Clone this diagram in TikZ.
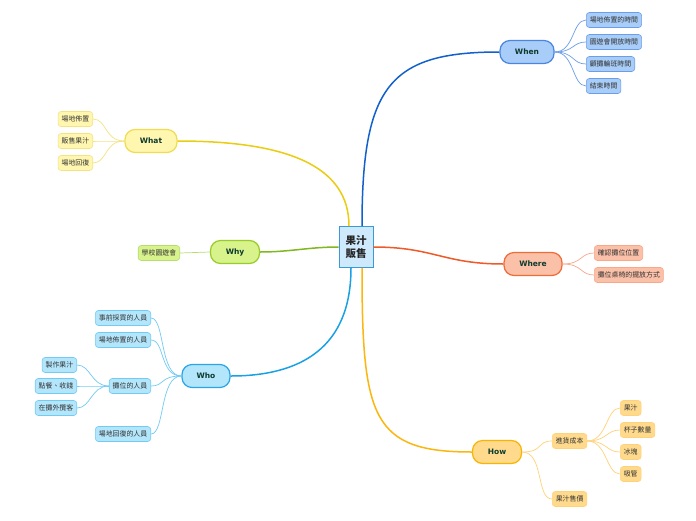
\documentclass[tikz,border=0pt]{standalone}
\usepackage{fontspec}
\setmainfont{Noto Sans CJK TC}
\newfontfamily\latinbold{DejaVu Sans}[BoldFont={DejaVu Sans Bold}]
\begin{document}
\begin{tikzpicture}[x=1pt,y=-1pt,
  every node/.style={inner sep=0pt},
  main/.style={draw, line width=1.2pt, rounded corners=10pt, minimum height=23pt, font=\latinbold\bfseries\fontsize{7.5}{8}\selectfont, text=textdark},
  leaf/.style={draw, line width=0.6pt, rounded corners=3pt, minimum height=15pt, inner xsep=3.5pt, font=\fontsize{6.9}{7.5}\selectfont, text=leaftext},
  branch/.style={line width=1.5pt},
  twig/.style={line width=0.7pt}]
\definecolor{textdark}{HTML}{0D3B2E}
\definecolor{leaftext}{HTML}{333333}
\definecolor{whenF}{HTML}{A8CDF8}\definecolor{whenB}{HTML}{4A86E0}\definecolor{whenL}{HTML}{1260CC}\definecolor{whenT}{HTML}{6C9EE8}
\definecolor{whatF}{HTML}{FFF6B0}\definecolor{whatB}{HTML}{F0DC50}\definecolor{whatL}{HTML}{EACD10}\definecolor{whatT}{HTML}{F3E383}
\definecolor{whyF}{HTML}{D8F28C}\definecolor{whyB}{HTML}{98CC28}\definecolor{whyL}{HTML}{80B820}\definecolor{whyT}{HTML}{B5DD70}
\definecolor{whereF}{HTML}{FBC0A8}\definecolor{whereB}{HTML}{EF6B3A}\definecolor{whereL}{HTML}{EF5A28}\definecolor{whereT}{HTML}{F8A88A}
\definecolor{whoF}{HTML}{B3E5FB}\definecolor{whoB}{HTML}{29A6E6}\definecolor{whoL}{HTML}{1AA0E6}\definecolor{whoT}{HTML}{72CBF2}
\definecolor{howF}{HTML}{FFDA8C}\definecolor{howB}{HTML}{F7B500}\definecolor{howL}{HTML}{FCB610}\definecolor{howT}{HTML}{FFD27A}
\definecolor{centerF}{HTML}{CDE9FB}\definecolor{centerB}{HTML}{3A9AD8}

\useasboundingbox[fill=white] (0,0) rectangle (696,520);

% center
\node[draw=centerB, fill=centerF, line width=0.8pt, minimum width=34pt, minimum height=41pt, align=center, font=\fontsize{10.5}{13}\selectfont\bfseries, text=black!85] (c) at (356,247) {果汁\\販售};

% main nodes
\node[main, draw=whenB, fill=whenF, minimum width=54pt] (when) at (527,52) {When};
\node[main, draw=whatB, fill=whatF, minimum width=52pt] (what) at (151,141) {What};
\node[main, draw=whyB, fill=whyF, minimum width=49pt] (why) at (235,252) {Why};
\node[main, draw=whereB, fill=whereF, minimum width=58pt] (where) at (533,264) {Where};
\node[main, draw=whoB, fill=whoF, minimum width=48pt] (who) at (206,376) {Who};
\node[main, draw=howB, fill=howF, minimum width=49pt] (how) at (497,452) {How};

% branches
\draw[branch, whenL] (c.north -| 362,0) .. controls +(0,-140) and +(-110,0) .. (when.west);
\draw[branch, whatL] (c.north -| 349,0) .. controls +(0,-60) and +(110,0) .. (what.east);
\draw[branch, whyL] (c.west) .. controls +(-30,0) and +(30,0) .. (why.east);
\draw[branch, whereL] (c.east) .. controls +(60,0) and +(-60,0) .. (where.west);
\draw[branch, whoL] (c.south -| 351,0) .. controls +(0,80) and +(70,0) .. (who.east);
\draw[branch, howL] (c.south -| 362,0) .. controls +(0,150) and +(-100,0) .. (how.west);

% When leaves
\node[leaf, draw=whenT, fill=whenF, anchor=west] (w1) at (586,20) {場地佈置的時間};
\node[leaf, draw=whenT, fill=whenF, anchor=west] (w2) at (586,42) {園遊會開放時間};
\node[leaf, draw=whenT, fill=whenF, anchor=west] (w3) at (586,64) {顧攤輪班時間};
\node[leaf, draw=whenT, fill=whenF, anchor=west] (w4) at (586,86) {結束時間};
\foreach \n in {w1,w2,w3,w4}
  \draw[twig, whenT] (when.east) .. controls +(20,0) and +(-14,0) .. (\n.west);

% What leaves
\node[leaf, draw=whatT, fill=whatF, anchor=east] (a1) at (93,119) {場地佈置};
\node[leaf, draw=whatT, fill=whatF, anchor=east] (a2) at (93,141) {販售果汁};
\node[leaf, draw=whatT, fill=whatF, anchor=east] (a3) at (93,163) {場地回復};
\foreach \n in {a1,a2,a3}
  \draw[twig, whatT] (what.west) .. controls +(-20,0) and +(14,0) .. (\n.east);

% Why leaf
\node[leaf, draw=whyT, fill=whyF, anchor=east] (y1) at (180,253) {學校園遊會};
\draw[twig, whyT] (why.west) .. controls +(-15,0) and +(15,0) .. (y1.east);

% Where leaves
\node[leaf, draw=whereT, fill=whereF, anchor=west] (r1) at (594,253) {確認攤位位置};
\node[leaf, draw=whereT, fill=whereF, anchor=west] (r2) at (594,275) {攤位桌椅的擺放方式};
\foreach \n in {r1,r2}
  \draw[twig, whereT] (where.east) .. controls +(20,0) and +(-14,0) .. (\n.west);

% Who leaves
\node[leaf, draw=whoT, fill=whoF, anchor=east] (o1) at (151,318) {事前採買的人員};
\node[leaf, draw=whoT, fill=whoF, anchor=east] (o2) at (151,340) {場地佈置的人員};
\node[leaf, draw=whoT, fill=whoF, anchor=east] (o3) at (151,386) {攤位的人員};
\node[leaf, draw=whoT, fill=whoF, anchor=east] (o4) at (151,434) {場地回復的人員};
\foreach \n in {o1,o2,o3,o4}
  \draw[twig, whoT] (who.west) .. controls +(-22,0) and +(14,0) .. (\n.east);
\node[leaf, draw=whoT, fill=whoF, anchor=east] (p1) at (77,365) {製作果汁};
\node[leaf, draw=whoT, fill=whoF, anchor=east] (p2) at (77,386) {點餐、收錢};
\node[leaf, draw=whoT, fill=whoF, anchor=east] (p3) at (77,408) {在攤外攬客};
\foreach \n in {p1,p2,p3}
  \draw[twig, whoT] (o3.west) .. controls +(-18,0) and +(14,0) .. (\n.east);

% How leaves
\node[leaf, draw=howT, fill=howF, anchor=west] (h1) at (552,441) {進貨成本};
\node[leaf, draw=howT, fill=howF, anchor=west] (h2) at (552,499) {果汁售價};
\foreach \n in {h1,h2}
  \draw[twig, howT] (how.east) .. controls +(22,0) and +(-16,0) .. (\n.west);
\node[leaf, draw=howT, fill=howF, anchor=west] (g1) at (620,408) {果汁};
\node[leaf, draw=howT, fill=howF, anchor=west] (g2) at (620,430) {杯子數量};
\node[leaf, draw=howT, fill=howF, anchor=west] (g3) at (620,452) {冰塊};
\node[leaf, draw=howT, fill=howF, anchor=west] (g4) at (620,474) {吸管};
\foreach \n in {g1,g2,g3,g4}
  \draw[twig, howT] (h1.east) .. controls +(20,0) and +(-14,0) .. (\n.west);
\end{tikzpicture}
\end{document}
